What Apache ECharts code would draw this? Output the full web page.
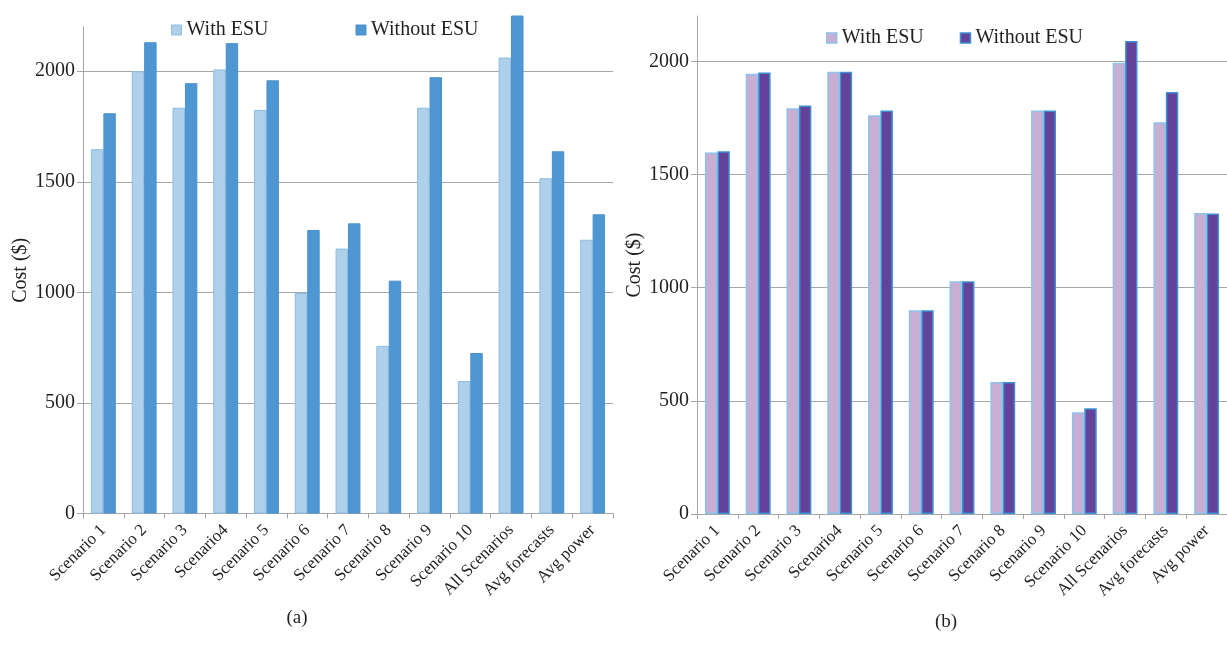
<!DOCTYPE html>
<html>
<head>
<meta charset="utf-8">
<script src="https://cdn.jsdelivr.net/npm/echarts@6/dist/echarts.min.js"></script>
<style>
html,body{margin:0;padding:0;background:#fff;}
#c{width:1227px;height:658px;}
</style>
</head>
<body>
<div id="c"></div>
<script>
const categories = ['Scenario 1','Scenario 2','Scenario 3','Scenario4','Scenario 5','Scenario 6','Scenario 7','Scenario 8','Scenario 9','Scenario 10','All Scenarios','Avg forecasts','Avg power'];
const seriesNames = ['With ESU','Without ESU'];
const aWith    = [1647, 2000, 1835, 2008, 1825, 997, 1198, 758, 1835, 599, 2062, 1516, 1238];
const aWithout = [1810, 2131, 1946, 2127, 1959, 1282, 1312, 1053, 1973, 726, 2252, 1638, 1353];
const bWith    = [1597, 1945, 1792, 1954, 1762, 900, 1028, 583, 1783, 449, 1994, 1731, 1330];
const bWithout = [1603, 1950, 1805, 1954, 1783, 900, 1028, 583, 1783, 467, 2090, 1864, 1328];
const yTicks = [0, 500, 1000, 1500, 2000];
const yMax = 2200;
const yInterval = 500;
const captions = ['(a)', '(b)'];

const FONT = '"Liberation Serif", "DejaVu Serif", serif';
const TXT = '#231f20';
const GRID = '#a6a6a6';

const styles = {
  aWith:    {color:'#aed0ea', borderColor:'#8cbde3', borderWidth:1},
  aWithout: {color:'#4f97d2', borderColor:'#4a91cd', borderWidth:1},
  bWith:    {color:'#c9aed4', borderColor:'#8dc3eb', borderWidth:1.5},
  bWithout: {color:'#63439a', borderColor:'#3e8fd4', borderWidth:1.5}
};

function yAxis(gridIndex, nameGap){
  return {
    type:'value', gridIndex, min:0, max:yMax, interval:yInterval,
    name:'Cost ($)', nameLocation:'middle', nameGap,
    nameTextStyle:{fontFamily:FONT, fontSize:20, color:TXT},
    axisLine:{show:true, lineStyle:{color:GRID, width:1}},
    axisTick:{show:true, length:6, lineStyle:{color:GRID}, customValues: yTicks},
    axisLabel:{fontFamily:FONT, fontSize:20, color:TXT, margin:8, customValues: yTicks, formatter: v => String(v)},
    splitLine:{show:true, lineStyle:{color:GRID, width:1}}
  };
}
function xAxis(gridIndex){
  return {
    type:'category', gridIndex, data:categories, boundaryGap:true,
    axisLine:{show:true, lineStyle:{color:GRID, width:1}},
    axisTick:{show:true, length:5, lineStyle:{color:GRID}, interval:0},
    axisLabel:{fontFamily:FONT, fontSize:17, color:TXT, rotate:45, interval:0, margin:14}
  };
}
function bar(name, data, idx, st){
  return {
    type:'bar', name, data, xAxisIndex:idx, yAxisIndex:idx,
    barGap:'0%', barCategoryGap:'39%', clip:false,
    itemStyle: st, emphasis:{disabled:true}
  };
}
function legend(left, top, gap, st1, st2){
  return {
    left, top, itemWidth:10, itemHeight:10, itemGap:gap, icon:'rect',
    textStyle:{fontFamily:FONT, fontSize:20, color:TXT},
    data:[{name:seriesNames[0], itemStyle:st1},{name:seriesNames[1], itemStyle:st2}],
    selectedMode:false
  };
}

const chart = echarts.init(document.getElementById('c'), null, {renderer:'canvas'});
chart.setOption({
  backgroundColor:'#fff',
  animation:false,
  grid:[
    {left:83, right:614, top:27, bottom:144.5, containLabel:false},
    {left:697, right:0, top:16, bottom:144, containLabel:false}
  ],
  legend:[
    legend(166, 15, 87, styles.aWith, styles.aWithout),
    legend(821, 23, 36, styles.bWith, styles.bWithout)
  ],
  xAxis:[xAxis(0), xAxis(1)],
  yAxis:[yAxis(0, 42), yAxis(1, 45)],
  series:[
    bar(seriesNames[0], aWith, 0, styles.aWith),
    bar(seriesNames[1], aWithout, 0, styles.aWithout),
    bar(seriesNames[0], bWith, 1, styles.bWith),
    bar(seriesNames[1], bWithout, 1, styles.bWithout)
  ],
  graphic:[
    {type:'text', x:297, y:618, style:{text:captions[0], font:'19px ' + FONT, fill:TXT, textAlign:'center', textVerticalAlign:'middle'}},
    {type:'text', x:946, y:622, style:{text:captions[1], font:'19px ' + FONT, fill:TXT, textAlign:'center', textVerticalAlign:'middle'}}
  ]
});
</script>
</body>
</html>
